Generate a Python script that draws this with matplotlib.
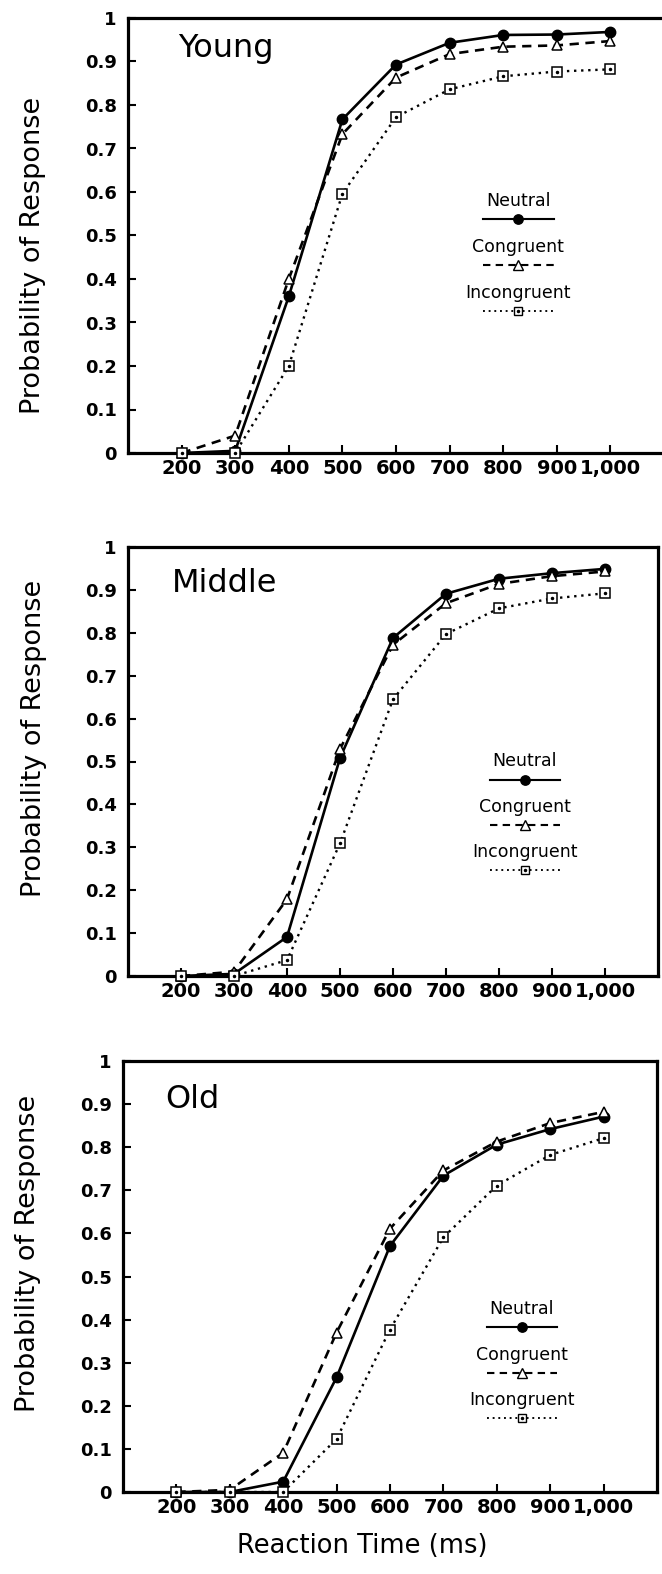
import matplotlib
matplotlib.use("Agg")
import matplotlib.pyplot as plt

# reaction time bins (ms)
rt = [200, 300, 400, 500, 600, 700, 800, 900, 1000]
tick_labels = ["200", "300", "400", "500", "600", "700", "800", "900", "1,000"]

# Young
young_neutral = [0.0, 0.005, 0.36, 0.767, 0.893, 0.943, 0.961, 0.962, 0.968]
young_congruent = [0.0, 0.04, 0.40, 0.733, 0.863, 0.917, 0.934, 0.937, 0.947]
young_incongruent = [0.0, 0.0, 0.20, 0.596, 0.772, 0.836, 0.866, 0.877, 0.882]

# Middle
middle_neutral = [0.0, 0.005, 0.091, 0.508, 0.788, 0.891, 0.926, 0.939, 0.949]
middle_congruent = [0.0, 0.01, 0.179, 0.529, 0.772, 0.869, 0.914, 0.932, 0.943]
middle_incongruent = [0.0, 0.0, 0.037, 0.309, 0.645, 0.797, 0.857, 0.880, 0.892]

# Old
old_neutral = [0.0, 0.0, 0.024, 0.266, 0.571, 0.734, 0.806, 0.842, 0.871]
old_congruent = [0.0, 0.005, 0.091, 0.37, 0.611, 0.746, 0.813, 0.856, 0.882]
old_incongruent = [0.0, 0.0, 0.0, 0.123, 0.377, 0.591, 0.711, 0.782, 0.821]

groups = ["Young", "Middle", "Old"]
series = [
    (young_neutral, young_congruent, young_incongruent),
    (middle_neutral, middle_congruent, middle_incongruent),
    (old_neutral, old_congruent, old_incongruent),
]
cond_names = ["Neutral", "Congruent", "Incongruent"]

W, H = 662, 1574
fig = plt.figure(figsize=(W / 100, H / 100), dpi=100)

# axes boxes in pixels: left, right, top, bottom
boxes = [(128, 664, 18, 453), (128, 658, 547, 976), (123, 657, 1061, 1492)]
# legend layout in axes fraction: center x, first text y
leg_pos = [(0.728, 0.58), (0.749, 0.50), (0.747, 0.425)]
title_pos = [(0.093, 0.93), (0.083, 0.916), (0.080, 0.91)]
ylab_pos = [0.455, 0.554, 0.553]

styles = [
    dict(ls="-", lw=1.9, marker="o", ms=7.5, mfc="black", mec="black"),
    dict(ls=(0, (3.5, 2.5)), lw=1.9, marker="^", ms=7.5, mfc="white", mec="black", mew=1.1),
    dict(ls=(0, (1, 2.0)), lw=1.7, marker="s", ms=6.5, mfc="white", mec="black", mew=1.1),
]

for i, (name, data) in enumerate(zip(groups, series)):
    l, r, t, b = boxes[i]
    ax = fig.add_axes([l / W, 1 - b / H, (r - l) / W, (b - t) / H])
    for vals, st in zip(data, styles):
        ax.plot(rt, vals, color="black", clip_on=False, zorder=3, **st)
    # dot inside the incongruent squares
    ax.plot(rt, data[2], ls="none", marker="o", ms=1.5, color="black", zorder=4, clip_on=False)

    ax.set_xlim(100, 1100)
    ax.set_ylim(0, 1)
    ax.set_xticks(rt)
    ax.set_xticklabels(tick_labels)
    yt = [0, 0.1, 0.2, 0.3, 0.4, 0.5, 0.6, 0.7, 0.8, 0.9, 1]
    ax.set_yticks(yt)
    ax.set_yticklabels(["0", "0.1", "0.2", "0.3", "0.4", "0.5", "0.6", "0.7", "0.8", "0.9", "1"])
    ax.tick_params(axis="both", direction="in", length=6, width=1.5)
    ax.tick_params(axis="x", pad=4, labelsize=14)
    ax.tick_params(axis="y", pad=8, labelsize=13)
    for lab in ax.get_xticklabels() + ax.get_yticklabels():
        lab.set_fontweight("bold")
    for sp in ax.spines.values():
        sp.set_linewidth(2.3)

    ax.set_ylabel("Probability of Response", fontsize=19.5, va="center")
    ax.yaxis.set_label_coords(-0.178, ylab_pos[i])

    tx, ty = title_pos[i]
    ax.text(tx, ty, name, transform=ax.transAxes, fontsize=23, va="center", ha="left")

    # hand-made legend: label above a short line sample
    cx, y0 = leg_pos[i]
    for k, (cname, st) in enumerate(zip(cond_names, styles)):
        yy = y0 - k * 0.106
        ax.text(cx, yy, cname, transform=ax.transAxes, fontsize=12.5, ha="center", va="center")
        ax.plot([cx - 0.066, cx + 0.066], [yy - 0.042, yy - 0.042], transform=ax.transAxes,
                color="black", ls=st["ls"], lw=st["lw"] * 0.8)
        ax.plot([cx], [yy - 0.042], transform=ax.transAxes, color="black", ls="none",
                marker=st["marker"], ms=st["ms"] * 0.9, mfc=st["mfc"], mec=st["mec"])
        if k == 2:
            ax.plot([cx], [yy - 0.042], transform=ax.transAxes, color="black", ls="none",
                    marker="o", ms=1.5)

fig.text(362 / W, 1 - 1546 / H, "Reaction Time (ms)", fontsize=18.5, ha="center", va="center")

fig.savefig("out.png", dpi=100)
